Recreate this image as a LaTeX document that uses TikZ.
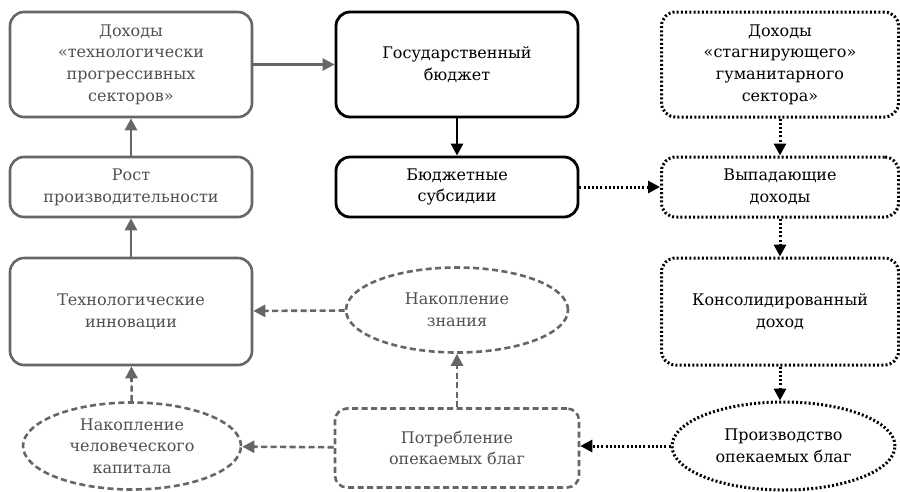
\documentclass[tikz,border=0pt]{standalone}
\usepackage{fontspec}
\setmainfont{DejaVu Serif}
\usetikzlibrary{arrows.meta,shapes.geometric}
\definecolor{gr}{HTML}{666666}
\definecolor{grt}{HTML}{505050}
\tikzset{
  lbl/.style={align=center,font=\fontsize{16}{21.7}\selectfont,inner sep=0pt},
  graybox/.style={lbl,draw=gr,text=grt,line width=2.6pt,rounded corners=14pt,rectangle},
  blackbox/.style={lbl,draw=black,text=black,line width=2.8pt,rounded corners=14pt,rectangle},
  dotbox/.style={lbl,draw=black,text=black,line width=3pt,rounded corners=14pt,rectangle,dash pattern=on 2pt off 2.2pt},
  dashbox/.style={lbl,draw=gr,text=grt,line width=2.6pt,rounded corners=12pt,rectangle,dash pattern=on 6pt off 3.5pt},
  dashell/.style={lbl,draw=gr,text=grt,line width=2.6pt,ellipse,dash pattern=on 6pt off 3.5pt},
  dotell/.style={lbl,draw=black,text=black,line width=3pt,ellipse,dash pattern=on 2pt off 2.2pt},
  garr/.style={draw=gr,line width=2.6pt,-{Triangle[length=12pt,width=12pt]},fill=gr},
  darr/.style={garr,dash pattern=on 6pt off 3.5pt},
  barr/.style={draw=black,line width=2.8pt,-{Triangle[length=12pt,width=12pt]}},
  oarr/.style={barr,line width=3pt,dash pattern=on 2pt off 2.2pt}
}
\begin{document}
\begin{tikzpicture}[x=1pt,y=-1pt]
\useasboundingbox (0,0) rectangle (900,491);
\node[graybox,minimum width=242pt,minimum height=105pt] (dtech) at (131,64.5) {Доходы\\«технологически\\прогрессивных\\секторов»};
\node[graybox,minimum width=242pt,minimum height=60pt] (rost) at (131,187) {Рост\\производительности};
\node[graybox,minimum width=242pt,minimum height=107pt] (tinn) at (131,311.5) {Технологические\\инновации};
\node[dashell,minimum width=218pt,minimum height=87pt] (hum) at (132,446) {Накопление\\человеческого\\капитала};
\node[dashbox,minimum width=244pt,minimum height=79pt] (potr) at (457,448) {Потребление\\опекаемых благ};
\node[dashell,minimum width=222pt,minimum height=85pt] (zn) at (457,310) {Накопление\\знания};
\node[blackbox,minimum width=242pt,minimum height=105pt] (gos) at (457,64.5) {Государственный\\бюджет};
\node[blackbox,minimum width=242pt,minimum height=60pt] (sub) at (457,187) {Бюджетные\\субсидии};
\node[dotbox,minimum width=237pt,minimum height=105pt] (stag) at (780,64.5) {Доходы\\«стагнирующего»\\гуманитарного\\сектора»};
\node[dotbox,minimum width=237pt,minimum height=60pt] (vyp) at (780,187) {Выпадающие\\доходы};
\node[dotbox,minimum width=237pt,minimum height=107pt] (kons) at (780,311.5) {Консолидированный\\доход};
\node[dotell,minimum width=223pt,minimum height=88pt] (proiz) at (783.5,446) {Производство\\опекаемых благ};

\draw[garr] (dtech) -- (gos);
\draw[garr] (rost) -- (dtech);
\draw[garr] (tinn) -- (rost);
\draw[darr] (hum) -- (tinn);
\draw[darr] (potr) -- (hum);
\draw[darr] (potr.north) -- (zn.south);
\draw[darr] (zn) -- (tinn);
\draw[barr] (gos) -- (sub);
\draw[oarr] (sub) -- (vyp);
\draw[oarr] (stag) -- (vyp);
\draw[oarr] (vyp) -- (kons);
\draw[oarr] (kons.south) -- (kons.south |- proiz.north);
\draw[oarr] (proiz.west) -- (potr.east |- proiz.west);
\end{tikzpicture}
\end{document}
